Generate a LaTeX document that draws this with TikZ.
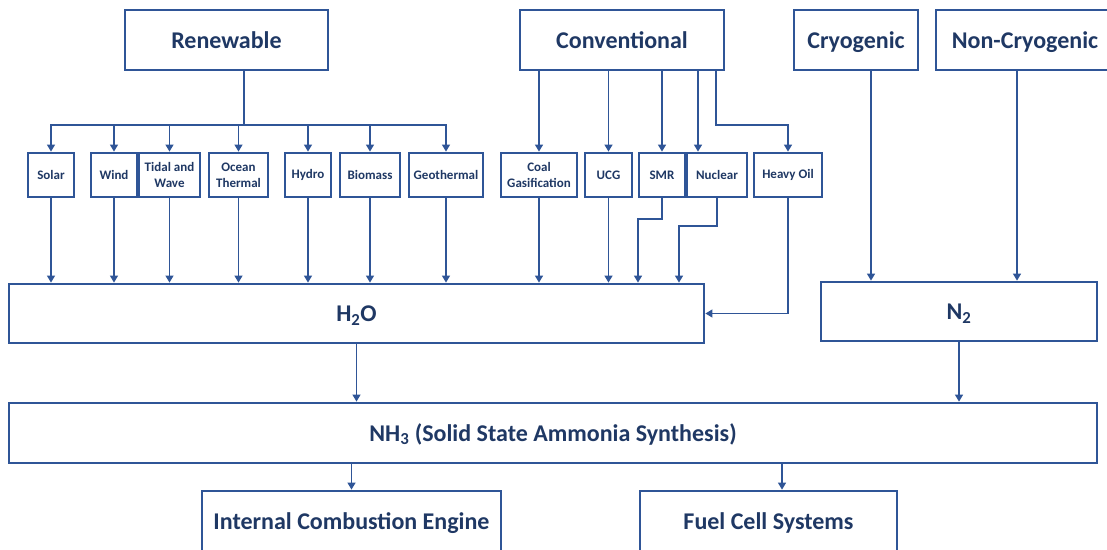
\documentclass[tikz,border=0pt]{standalone}
\usepackage{fontspec}
\setmainfont{Carlito}
\usetikzlibrary{arrows.meta}
\definecolor{lineblue}{HTML}{2F5597}
\definecolor{textnavy}{HTML}{1F3864}
\tikzset{
  bigbox/.style={draw=lineblue, line width=2.8pt, fill=white, inner sep=0pt,
    minimum height=60pt, text=textnavy, font=\fontsize{24}{28}\selectfont\bfseries,
    text height=17pt, text depth=1pt},
  smallbox/.style={draw=lineblue, line width=2.8pt, fill=white, inner sep=0pt,
    minimum height=44pt, text=textnavy, font=\fontsize{13}{16}\selectfont\bfseries, align=center},
  arr/.style={draw=lineblue, line width=1.3pt, -{Triangle[width=8pt,length=7pt]}},
  conn/.style={draw=lineblue, line width=1.3pt}
}
\begin{document}
\begin{tikzpicture}[x=1pt,y=-1pt]
\clip (0,0) rectangle (1107,549);
\fill[white] (0,0) rectangle (1107,549);
% top boxes
\node[bigbox, minimum width=203pt] (ren) at (226.5,40) {Renewable};
\node[bigbox, minimum width=204pt] (conv) at (622,40) {Conventional};
\node[bigbox, minimum width=124pt] (cryo) at (856,40) {Cryogenic};
\node[bigbox, minimum width=178pt] (ncryo) at (1025,40) {Non-Cryogenic};
% small boxes
\node[smallbox, minimum width=46pt] (solar) at (51,175) {Solar};
\node[smallbox, minimum width=46pt] (wind) at (114,175) {Wind};
\node[smallbox, minimum width=61pt] (tidal) at (169.5,175) {Tidal and\\Wave};
\node[smallbox, minimum width=59pt] (ocean) at (238.5,175) {Ocean\\Thermal};
\node[smallbox, minimum width=46pt] (hydro) at (308,175) {Hydro};
\node[smallbox, minimum width=60pt] (bio) at (370,175) {Biomass};
\node[smallbox, minimum width=74pt] (geo) at (446,175) {Geothermal};
\node[smallbox, minimum width=76pt] (coal) at (539,175) {Coal\\Gasification};
\node[smallbox, minimum width=47pt] (ucg) at (608.5,175) {UCG};
\node[smallbox, minimum width=46pt] (smr) at (662,175) {SMR};
\node[smallbox, minimum width=60pt] (nuc) at (717,175) {Nuclear};
\node[smallbox, minimum width=68pt] (heavy) at (788,175) {Heavy Oil};
% middle boxes
\node[bigbox, minimum width=695pt, minimum height=59pt] (h2o) at (356.5,313.5) {H\textsubscript{2}O};
\node[bigbox, minimum width=276pt, minimum height=59pt] (n2) at (959,311.5) {N\textsubscript{2}};
\node[bigbox, minimum width=1088pt] (nh3) at (553,433) {NH\textsubscript{3} (Solid State Ammonia Synthesis)};
\node[bigbox, minimum width=299pt] (ice) at (351.5,521) {Internal Combustion Engine};
\node[bigbox, minimum width=257pt] (fcs) at (768.5,521) {Fuel Cell Systems};
% helper coordinates
\coordinate (rb) at (244,125);
\coordinate (nucin) at (698,125);
\coordinate (hob) at (716,125);
\coordinate (smrout) at (638,219);
\coordinate (nucout) at (679,226);
\coordinate (cx) at (871,0);
\coordinate (ncx) at (1017,0);
\coordinate (fx) at (782,0);
% renewable branches
\draw[conn] (ren.south -| rb) -- (rb);
\foreach \n in {solar,wind,tidal,ocean,hydro,bio,geo}
  \draw[arr] (rb) -| (\n);
% conventional branches
\draw[arr] (conv.south -| coal) -- (coal);
\draw[arr] (conv.south -| ucg) -- (ucg);
\draw[arr] (conv.south -| smr) -- (smr);
\draw[arr] (conv.south -| nucin) -- (nucin |- nuc.north);
\draw[arr] (conv.south -| hob) -- (hob) -| (heavy);
% to H2O
\foreach \n in {solar,wind,tidal,ocean,hydro,bio,geo,coal,ucg}
  \draw[arr] (\n.south) -- (\n.south |- h2o.north);
\draw[arr] (smr.south) |- (smrout) -- (smrout |- h2o.north);
\draw[arr] (nuc.south) |- (nucout) -- (nucout |- h2o.north);
\draw[arr] (heavy.south) |- (h2o.east);
% nitrogen
\draw[arr] (cryo.south -| cx) -- (n2.north -| cx);
\draw[arr] (ncryo.south -| ncx) -- (n2.north -| ncx);
% to ammonia
\draw[arr] (h2o.south) -- (h2o.south |- nh3.north);
\draw[arr] (n2.south) -- (n2.south |- nh3.north);
% outputs
\draw[arr] (nh3.south -| ice.north) -- (ice.north);
\draw[arr] (nh3.south -| fx) -- (fx |- fcs.north);
\end{tikzpicture}
\end{document}
